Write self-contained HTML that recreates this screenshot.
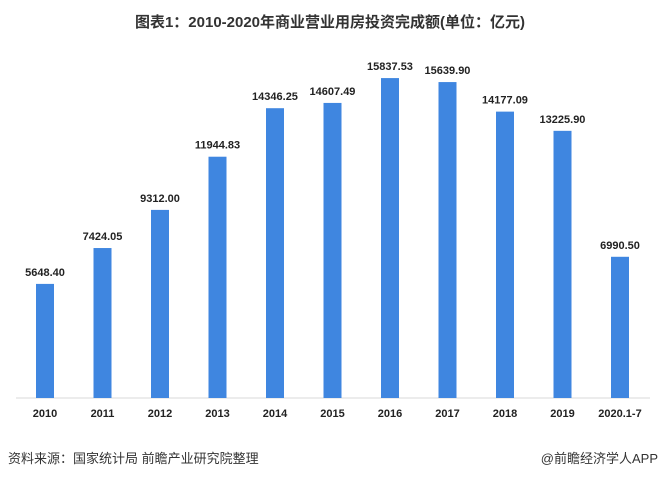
<!DOCTYPE html><html><head><meta charset="utf-8"><style>
body{margin:0;width:666px;height:479px;background:#fff;overflow:hidden;font-family:"Liberation Sans","Noto Sans CJK SC",sans-serif}
</style></head><body>
<svg width="666" height="479" xmlns="http://www.w3.org/2000/svg" font-family="Liberation Sans, Noto Sans CJK SC, sans-serif">
<text x="330" y="27" text-anchor="middle" font-size="15" font-weight="bold" fill="#333">图表1：2010-2020年商业营业用房投资完成额(单位：亿元)</text>
<line x1="16" y1="398" x2="650" y2="398" stroke="#d9d9d9" stroke-width="1"/>
<g id="bars" fill="#3F86E0"></g>
<g id="labels" font-size="11" font-weight="bold" fill="#222" text-anchor="middle"></g>
<text x="8" y="463" font-size="13" fill="#333">资料来源：国家统计局 前瞻产业研究院整理</text>
<text x="658" y="463" font-size="13" fill="#333" text-anchor="end">@前瞻经济学人APP</text>
<script>
var v=[5648.40,7424.05,9312.00,11944.83,14346.25,14607.49,15837.53,15639.90,14177.09,13225.90,6990.50];
var y=["2010","2011","2012","2013","2014","2015","2016","2017","2018","2019","2020.1-7"];
var b=document.getElementById("bars"),l=document.getElementById("labels"),ns="http://www.w3.org/2000/svg";
for(var i=0;i<11;i++){var c=45+57.5*i,h=v[i]*0.0202;
var r=document.createElementNS(ns,"rect");r.setAttribute("x",c-9);r.setAttribute("y",398-h);r.setAttribute("width",18);r.setAttribute("height",h);b.appendChild(r);
var t=document.createElementNS(ns,"text");t.setAttribute("x",c);t.setAttribute("y",398-h-8);t.textContent=v[i].toFixed(2);l.appendChild(t);
var t2=document.createElementNS(ns,"text");t2.setAttribute("x",c);t2.setAttribute("y",417);t2.textContent=y[i];l.appendChild(t2);}
</script>
</svg></body></html>
